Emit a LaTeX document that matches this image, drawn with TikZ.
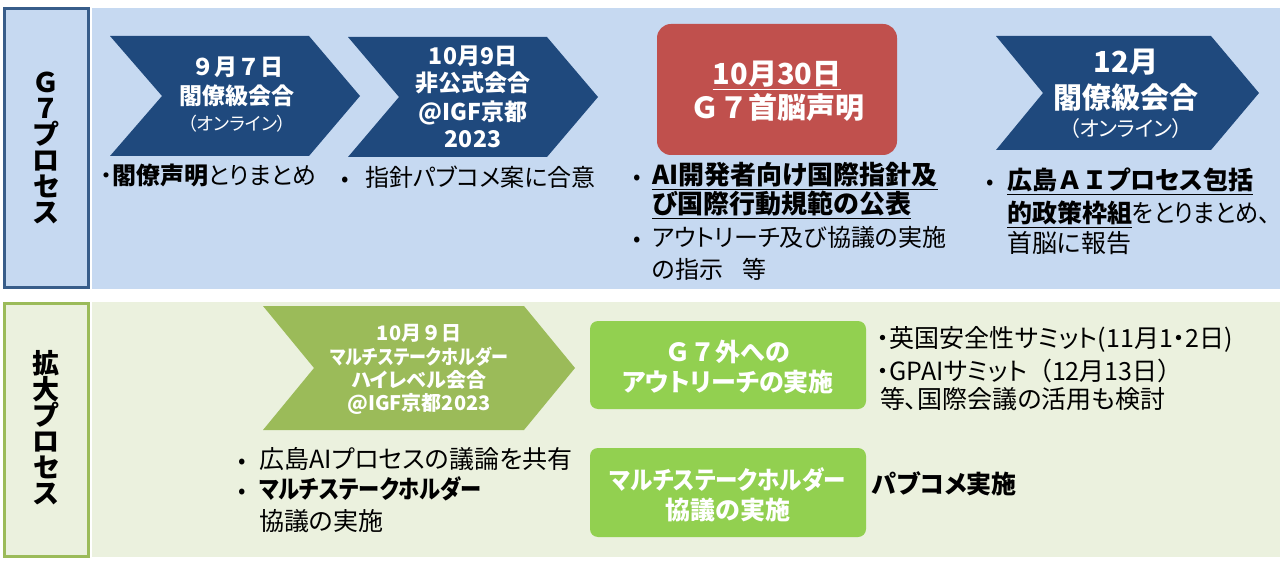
\documentclass[tikz,border=0pt]{standalone}
\usepackage{graphicx}
\usepackage{fontspec}
\setmainfont{Noto Sans CJK JP}[RawFeature={+palt}]
\newfontfamily\fw{Noto Sans CJK JP}
\newcommand{\fsz}[1]{\fontsize{#1}{#1}\selectfont}
\newcommand{\fwt}[1]{{\fw #1}}
\newcommand{\nar}[2]{\scalebox{#1}[1]{#2}}
\definecolor{bandblue}{RGB}{198,217,241}
\definecolor{boxblue}{RGB}{56,93,138}
\definecolor{chevblue}{RGB}{31,73,125}
\definecolor{redbox}{RGB}{192,80,77}
\definecolor{bandgreen}{RGB}{235,241,222}
\definecolor{boxgreen}{RGB}{155,187,89}
\definecolor{chevgreen}{RGB}{155,187,89}
\definecolor{brightgreen}{RGB}{146,208,80}
\begin{document}
\begin{tikzpicture}[x=1pt,y=-1pt,
  txt/.style={inner sep=0pt,anchor=base west,text=black,font=\fsz{24}},
  bul/.style={inner sep=0pt,anchor=base,text=black,font=\fsz{22}},
  wtxt/.style={inner sep=0pt,anchor=base,text=white,font=\fsz{23}\bfseries},
  lbl/.style={inner sep=0pt,anchor=center,text=black,align=center,font=\fontsize{27}{26}\selectfont\bfseries}]
\useasboundingbox (0,0) rectangle (1284,561);
\fill[white] (0,0) rectangle (1284,561);
% bands
\fill[bandblue] (92,8) rectangle (1280,289);
\fill[bandgreen] (92,302) rectangle (1280,557);
\draw[boxblue,line width=3pt,fill=bandblue] (4.5,8.5) rectangle (88.5,287.5);
\draw[boxgreen,line width=3pt,fill=bandgreen] (4.5,303.5) rectangle (88.5,556.5);
\node[lbl] (lg7) at (46,148) {Ｇ\\７\\プ\\ロ\\セ\\ス};
\node[lbl] (lkd) at (46,428) {拡\\大\\プ\\ロ\\セ\\ス};
% chevrons top
\fill[chevblue] (110,36) -- (309,36) -- (360,96) -- (309,156) -- (110,156) -- (162,96) -- cycle;
\fill[chevblue] (348,37) -- (547,37) -- (598,97) -- (547,157) -- (348,157) -- (399,97) -- cycle;
\fill[chevblue] (996,36) -- (1211,36) -- (1259,93) -- (1211,150) -- (996,150) -- (1043,93) -- cycle;
\fill[redbox,rounded corners=14pt] (657,24) rectangle (897,155);
% chevron 1 text
\node[wtxt] (c1a) at (237,76) {\fwt{９}月\fwt{７}日};
\node[wtxt] (c1b) at (237,105) {閣僚級会合};
\node[wtxt,font=\fsz{18}\mdseries] (c1c) at (237,131) {（オンライン）};
% chevron 2 text
\node[wtxt] (c2a) at (473,65) {10月9日};
\node[wtxt] (c2b) at (473,92) {非公式会合};
\node[wtxt] (c2c) at (473,121) {@IGF京都};
\node[wtxt] (c2d) at (473,148) {2023};
% red box text
\node[wtxt,font=\fsz{29}\bfseries] (r1) at (777,85) {\underline{10月30日}};
\node[wtxt,font=\fsz{29}\bfseries] (r2) at (777,119) {\fwt{Ｇ７}首脳声明};
% chevron 4 text
\node[wtxt,font=\fsz{29}\bfseries] (c4a) at (1126,73) {12月};
\node[wtxt,font=\fsz{29}\bfseries] (c4b) at (1126,109) {閣僚級会合};
\node[wtxt,font=\fsz{21}\mdseries] (c4c) at (1126,137) {（オンライン）};
% top bullets
\node[txt] (t1) at (100,185) {・\textbf{閣僚声明}とりまとめ};
\node[bul] (b2) at (345,187) {•};
\node[txt] (t2) at (365,187) {指針パブコメ案に合意};
\node[bul] (b3a) at (637,185) {•};
\node[txt,font=\fsz{26}\bfseries] (t3a) at (652,185) {\underline{AI開発者向け国際指針及}};
\node[txt,font=\fsz{26}\bfseries] (t3b) at (652,214) {\underline{び国際行動規範の公表}};
\node[bul] (b3c) at (637,247) {•};
\node[txt] (t3c) at (652,247) {アウトリーチ及び協議の実施};
\node[txt] (t3d) at (652,278) {の指示\hspace{0.8em}等};
\node[bul] (b4) at (990,190) {•};
\node[txt,font=\fsz{25}] (t4a) at (1007,190) {\textbf{\underline{広島\fwt{ＡＩ}プロセス包括}}};
\node[txt,font=\fsz{25}] (t4b) at (1007,223) {\textbf{\underline{的政策枠組}}\nar{0.93}{をとりまとめ、}};
\node[txt,font=\fsz{25}] (t4c) at (1007,253) {首脳に報告};
% bottom chevron
\fill[chevgreen] (263,306) -- (524,306) -- (575,368) -- (524,430) -- (263,430) -- (314,368) -- cycle;
\node[wtxt,font=\fsz{20}\bfseries] (g1) at (419,340.5) {10月\fwt{９}日};
\node[wtxt,font=\fsz{20}\bfseries] (g2) at (419,364.5) {\nar{0.85}{マルチステークホルダー}};
\node[wtxt,font=\fsz{20}\bfseries] (g3) at (419,387.5) {ハイレベル会合};
\node[wtxt,font=\fsz{20}\bfseries] (g4) at (419,410.5) {@IGF京都2023};
% green boxes
\fill[brightgreen,rounded corners=8pt] (590,321) rectangle (866,409);
\fill[brightgreen,rounded corners=8pt] (590,448) rectangle (866,537);
\node[wtxt,font=\fsz{25}\bfseries] (o1) at (728,361.5) {\fwt{Ｇ７}外への};
\node[wtxt,font=\fsz{25}\bfseries] (o2) at (728,391.5) {アウトリーチの実施};
\node[wtxt,font=\fsz{25}\bfseries] (m1) at (728,489.5) {\nar{0.9}{マルチステークホルダー}};
\node[wtxt,font=\fsz{25}\bfseries] (m2) at (728,519.5) {協議の実施};
% bottom texts
\node[bul] (b5a) at (242,468) {•};
\node[txt,font=\fsz{25}] (t5a) at (259,468) {広島AIプロセスの議論を共有};
\node[bul] (b5b) at (242,498) {•};
\node[txt,font=\fsz{25}] (t5b) at (259,498) {\textbf{\nar{0.85}{マルチステークホルダー}}};
\node[txt,font=\fsz{25}] (t5c) at (259,530) {協議の実施};
\node[txt,font=\fsz{25}] (t6a) at (877,347) {・英国安全性サミット(11月1・2日)};
\node[txt,font=\fsz{25}] (t6b) at (877,380) {・GPAIサミット\fwt{（}12月13日\fwt{）}};
\node[txt,font=\fsz{25}] (t6c) at (880,408) {等、国際会議の活用も検討};
\node[txt,font=\fsz{25}] (t7) at (872,493) {\textbf{パブコメ実施}};
\end{tikzpicture}
\end{document}
